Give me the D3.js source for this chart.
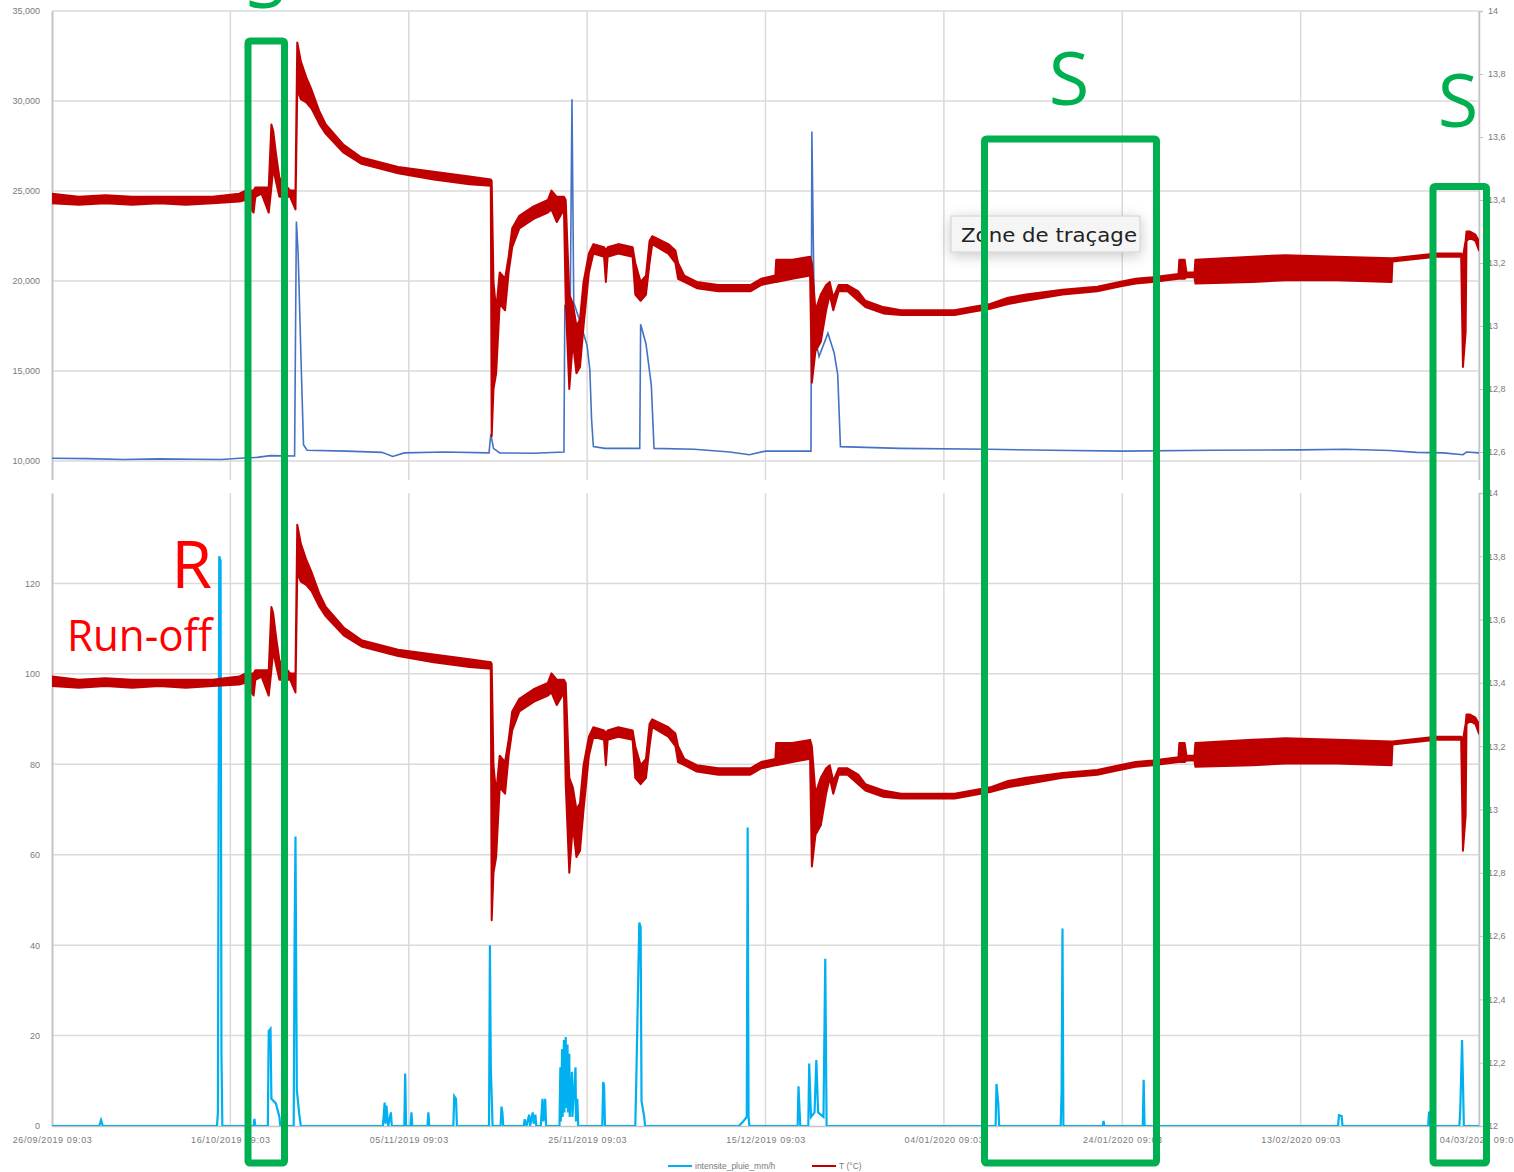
<!DOCTYPE html>
<html>
<head>
<meta charset="utf-8">
<script src="https://cdn.jsdelivr.net/npm/d3@7"></script>
<style>
  body { margin: 0; background: #fff; }
  svg { display: block; }
  .axis text { font-family: "Liberation Sans", Arial, sans-serif; font-size: 9px; fill: #7a7a7a; }
  .axis.dates text { letter-spacing: 0.6px; }
  .legend text { font-family: "Liberation Sans", Arial, sans-serif; font-size: 8.5px; fill: #7a7a7a; }
</style>
</head>
<body>
<svg id="chart" width="1514" height="1172"></svg>
<script>
// x axis labels, one every 20 days
var dateLabels = ["26/09/2019 09:03", "16/10/2019 09:03", "05/11/2019 09:03", "25/11/2019 09:03",
    "15/12/2019 09:03", "04/01/2020 09:03", "24/01/2020 09:03", "13/02/2020 09:03", "04/03/2020 09:03"];
var topLeftTicks = [0, 5000, 10000, 15000, 20000, 25000, 30000, 35000];
var bottomLeftTicks = [0, 20, 40, 60, 80, 100, 120];
var rightTicks = [12, 12.2, 12.4, 12.6, 12.8, 13, 13.2, 13.4, 13.6, 13.8, 14];

// T (°C) : [day since first label, low, high] (the recorded line is a noisy band)
var tempBand = [
    [0, 13.39, 13.42], [3, 13.385, 13.41], [6, 13.39, 13.415], [9, 13.385, 13.41], [12, 13.39, 13.41],
    [15, 13.385, 13.41], [18, 13.39, 13.41], [21, 13.395, 13.42], [21.7, 13.40, 13.43], [22.6, 13.36, 13.43],
    [22.8, 13.41, 13.44], [23.5, 13.42, 13.44], [24.3, 13.36, 13.44], [24.6, 13.44, 13.64], [24.8, 13.50, 13.62],
    [25.1, 13.46, 13.55], [25.5, 13.41, 13.47], [26.7, 13.41, 13.43], [27.3, 13.37, 13.43], [27.5, 13.75, 13.90],
    [27.9, 13.72, 13.84], [28.5, 13.71, 13.79], [29.1, 13.69, 13.75], [30.0, 13.64, 13.68], [30.7, 13.61, 13.64],
    [32.7, 13.55, 13.575], [34.7, 13.515, 13.535], [38.8, 13.485, 13.505], [42.8, 13.465, 13.49], [46.8, 13.45, 13.475],
    [49.2, 13.445, 13.465], [49.3, 12.65, 13.46], [49.5, 12.80, 13.14], [49.8, 12.85, 13.05], [50.2, 13.07, 13.17],
    [50.8, 13.05, 13.15], [51.2, 13.17, 13.22], [51.6, 13.25, 13.31], [52.4, 13.31, 13.35], [54.0, 13.34, 13.38],
    [55.6, 13.36, 13.40], [56.0, 13.37, 13.43], [56.6, 13.33, 13.41], [57.4, 13.37, 13.41], [57.6, 13.08, 13.40],
    [58.0, 12.80, 13.10], [58.4, 12.95, 13.07], [58.8, 12.85, 13.00], [59.2, 12.87, 13.02], [59.6, 13.00, 13.14],
    [60.2, 13.17, 13.23], [60.7, 13.23, 13.26], [61.9, 13.22, 13.25], [62.1, 13.14, 13.24], [62.3, 13.22, 13.25],
    [63.5, 13.23, 13.26], [65.1, 13.22, 13.25], [65.4, 13.10, 13.20], [66.0, 13.08, 13.14], [66.6, 13.10, 13.16],
    [67.0, 13.20, 13.27], [67.3, 13.26, 13.285], [69.1, 13.23, 13.26], [69.9, 13.20, 13.24], [70.2, 13.15, 13.20],
    [70.9, 13.14, 13.16], [72.3, 13.12, 13.14], [74.7, 13.11, 13.13], [78.3, 13.11, 13.13], [79.5, 13.13, 13.15],
    [81.1, 13.14, 13.16], [81.2, 13.14, 13.21], [83.0, 13.15, 13.21], [85.0, 13.16, 13.22], [85.2, 12.82, 13.20],
    [85.6, 12.92, 13.05], [86.2, 12.95, 13.10], [86.8, 13.05, 13.13], [87.2, 13.10, 13.14], [87.6, 13.05, 13.09],
    [88.2, 13.11, 13.13], [89.2, 13.11, 13.13], [90.4, 13.08, 13.11], [91.2, 13.06, 13.08], [93.2, 13.04, 13.06],
    [95.2, 13.035, 13.05], [101.2, 13.035, 13.05], [103.2, 13.045, 13.06], [105.2, 13.055, 13.07], [107.2, 13.07, 13.09],
    [109.2, 13.08, 13.10], [113.3, 13.10, 13.115], [117.2, 13.11, 13.125], [119.7, 13.125, 13.14], [121.5, 13.135, 13.15],
    [123.4, 13.14, 13.155], [126.3, 13.15, 13.165], [126.4, 13.15, 13.21], [127.0, 13.15, 13.21], [127.2, 13.155, 13.17],
    [128.1, 13.155, 13.17], [128.2, 13.135, 13.21], [134.6, 13.14, 13.22], [138.3, 13.145, 13.225], [144.0, 13.145, 13.22],
    [150.2, 13.14, 13.215], [150.3, 13.205, 13.215], [155.2, 13.22, 13.23], [158.0, 13.22, 13.23], [158.2, 12.87, 13.22],
    [158.5, 12.98, 13.27], [158.6, 13.27, 13.30], [159.0, 13.28, 13.30], [159.6, 13.27, 13.29], [160, 13.24, 13.27]
];

// upper chart, left axis series : [day, value]
var topSeries = [
    [0, 10150], [4, 10130], [8, 10080], [12, 10120], [16, 10100], [19, 10080], [21, 10150], [23, 10200],
    [24.5, 10300], [27.2, 10280], [27.4, 23300], [27.6, 21500], [27.9, 16000], [28.2, 10900], [28.6, 10600],
    [33, 10550], [37, 10480], [38.2, 10250], [39.5, 10450], [44, 10500], [49.0, 10450], [49.2, 11500],
    [49.5, 10700], [50.2, 10450], [54, 10430], [57.4, 10500], [57.5, 18600], [58.1, 18300], [58.3, 30100],
    [58.5, 18800], [59.3, 17600], [60.0, 16400], [60.3, 15100], [60.5, 12300], [60.7, 10800], [62, 10700],
    [65.9, 10700], [66.0, 17600], [66.6, 16500], [67.2, 14200], [67.5, 10700], [72, 10650], [76, 10500],
    [78.2, 10350], [80, 10550], [85.1, 10550], [85.2, 28300], [85.5, 17000], [86.0, 15800], [87.0, 17100],
    [87.7, 16000], [88.1, 14800], [88.4, 10800], [95, 10700], [105, 10650], [112, 10600], [120, 10550],
    [130, 10600], [140, 10620], [145, 10650], [150, 10580], [153, 10480], [156, 10450], [158.2, 10350],
    [158.6, 10500], [160, 10450]
];

// intensite_pluie_mm/h : [day, value]
var rain = [
    [0, 0], [5.3, 0], [5.5, 1.3], [5.7, 0],
    [18.5, 0], [18.6, 3], [18.75, 126], [18.9, 125], [19.0, 16], [19.1, 0],
    [22.6, 0], [22.7, 1.6], [22.8, 0],
    [24.2, 0], [24.3, 21], [24.5, 21.5], [24.6, 6], [25.1, 5], [25.5, 2], [25.6, 0],
    [27.1, 0], [27.2, 42], [27.3, 64], [27.45, 8], [27.7, 3], [27.9, 0],
    [37.1, 0], [37.3, 5.2], [37.4, 0.5], [37.5, 4.5], [37.7, 0], [38.0, 3], [38.1, 0],
    [39.5, 0], [39.6, 11.6], [39.7, 0],
    [40.2, 0], [40.3, 3], [40.4, 0],
    [42.1, 0], [42.2, 3], [42.3, 0],
    [45.0, 0], [45.1, 6.6], [45.3, 6], [45.4, 0],
    [49.0, 0], [49.1, 40], [49.2, 13], [49.4, 0],
    [50.3, 0], [50.4, 4.3], [50.5, 3], [50.6, 0],
    [52.9, 0], [53.0, 1.5], [53.2, 0], [53.5, 2.5], [53.6, 0], [53.9, 3], [54.0, 0.5], [54.2, 2.5], [54.3, 0],
    [54.8, 0], [55.0, 6], [55.1, 1], [55.3, 6], [55.4, 0],
    [56.9, 0], [57.0, 13], [57.05, 1], [57.2, 17], [57.25, 2], [57.4, 19], [57.45, 3], [57.6, 19.7], [57.65, 4],
    [57.8, 18], [57.85, 3], [58.0, 16], [58.05, 2], [58.3, 12], [58.35, 2], [58.7, 13], [58.75, 1], [58.9, 6], [59.0, 0],
    [61.7, 0], [61.8, 9.7], [61.9, 9], [62.0, 0],
    [65.4, 0], [65.5, 9], [65.85, 45], [66.0, 44], [66.1, 5.5], [66.4, 2], [66.5, 0],
    [77.0, 0], [77.5, 1], [77.9, 2], [78.0, 66], [78.1, 2], [78.2, 0],
    [83.6, 0], [83.7, 8.8], [83.9, 0],
    [84.8, 0], [84.9, 13.8], [85.1, 2], [85.5, 3], [85.7, 14.6], [85.9, 3], [86.5, 2], [86.7, 37], [86.85, 0],
    [105.8, 0], [105.9, 9.3], [106.1, 5], [106.2, 0],
    [113.1, 0], [113.2, 7.6], [113.3, 43.7], [113.4, 0],
    [117.8, 0], [117.9, 1.1], [118.0, 0],
    [122.3, 0], [122.4, 10.2], [122.5, 0],
    [144.2, 0], [144.3, 2.4], [144.6, 2.2], [144.7, 0],
    [154.3, 0], [154.4, 3.2], [154.5, 0],
    [157.8, 0], [157.9, 3.5], [158.1, 19], [158.2, 10], [158.3, 0],
    [160, 0]
];

var parseDate = d3.timeParse("%d/%m/%Y %H:%M");
var fmtDate = d3.timeFormat("%d/%m/%Y %H:%M");
var tickDates = dateLabels.map(parseDate);
var t0 = tickDates[0];
function toDate(day) { return new Date(t0.getTime() + day * 864e5); }

var fr = d3.formatLocale({ decimal: ",", thousands: " ", grouping: [3], currency: ["", " €"] });
var fmtRight = fr.format(".1~f");

var svg = d3.select('#chart');
var left = 52, right = 1479;

var x = d3.scaleTime()
    .domain([t0, tickDates[tickDates.length - 1]])
    .range([left, right]);

// upper chart (lower part hidden by the second chart)
var yTopL = d3.scaleLinear().domain([0, 35000]).range([641, 11]);
var yTopR = d3.scaleLinear().domain([12, 14]).range([641, 11]);
// lower chart
var yBotL = d3.scaleLinear().domain([0, 140]).range([1126, 493]);
var yBotR = d3.scaleLinear().domain([12, 14]).range([1126, 493]);

var defs = svg.append('defs');

function drawPanel(id, bgTop, top, bottom, yL, yR, leftTicks, leftFmt, showDates) {
    var g = svg.append('g').attr('id', id);
    g.append('rect')
        .attr('x', 0).attr('y', bgTop)
        .attr('width', 1514).attr('height', 1172 - bgTop)
        .attr('fill', '#fff');

    // grid
    g.selectAll('.hgrid')
        .data(leftTicks.filter(function (d) { return d !== yL.domain()[0]; }))
        .enter().append('line')
        .attr('x1', left).attr('x2', right)
        .attr('y1', function (d) { return yL(d); })
        .attr('y2', function (d) { return yL(d); })
        .attr('stroke', '#dadada').attr('stroke-width', 1.5);
    g.selectAll('.vgrid')
        .data(tickDates.slice(1))
        .enter().append('line')
        .attr('x1', function (d) { return x(d); })
        .attr('x2', function (d) { return x(d); })
        .attr('y1', top).attr('y2', bottom)
        .attr('stroke', '#dadada').attr('stroke-width', 1.5);

    // axes
    var axL = g.append('g').attr('class', 'axis')
        .attr('transform', 'translate(' + left + ',0)')
        .call(d3.axisLeft(yL).tickValues(leftTicks).tickFormat(leftFmt).tickSize(0).tickPadding(12));
    axL.select('.domain').attr('stroke', '#c4c4c4').attr('stroke-width', 2);

    var axR = g.append('g').attr('class', 'axis')
        .attr('transform', 'translate(' + right + ',0)')
        .call(d3.axisRight(yR).tickValues(rightTicks).tickFormat(fmtRight).tickSize(4).tickPadding(5));
    axR.select('.domain').attr('stroke', '#c4c4c4').attr('stroke-width', 1.5);
    axR.selectAll('.tick line').attr('stroke', '#c4c4c4');

    if (showDates) {
        var axB = g.append('g').attr('class', 'axis dates')
            .attr('transform', 'translate(0,' + bottom + ')')
            .call(d3.axisBottom(x).tickValues(tickDates).tickFormat(fmtDate).tickSize(0).tickPadding(11));
        axB.select('.domain').attr('stroke', '#c4c4c4').attr('stroke-width', 1.5);
    }

    defs.append('clipPath').attr('id', id + '-clip')
        .append('rect')
        .attr('x', left).attr('y', top - 2)
        .attr('width', right - left).attr('height', bottom - top + 2);

    return g.append('g').attr('clip-path', 'url(#' + id + '-clip)');
}

var tempArea = function (yR) {
    return d3.area()
        .x(function (d) { return x(toDate(d[0])); })
        .y0(function (d) { return yR(d[1]); })
        .y1(function (d) { return yR(d[2]); });
};

// ---- upper chart
var plotTop = drawPanel('top', 0, 11, 641, yTopL, yTopR, topLeftTicks, d3.format(','), false);
plotTop.append('path')
    .datum(topSeries)
    .attr('d', d3.line()
        .x(function (d) { return x(toDate(d[0])); })
        .y(function (d) { return yTopL(d[1]); }))
    .attr('fill', 'none')
    .attr('stroke', '#4472C4')
    .attr('stroke-width', 1.6);
plotTop.append('path')
    .datum(tempBand)
    .attr('d', tempArea(yTopR))
    .attr('fill', '#C00000')
    .attr('stroke', '#C00000')
    .attr('stroke-width', 2)
    .attr('stroke-linejoin', 'round');

// ---- lower chart, drawn over the bottom of the upper one
var plotBot = drawPanel('bottom', 480, 493, 1126, yBotL, yBotR, bottomLeftTicks, d3.format('d'), true);
plotBot.append('path')
    .datum(rain)
    .attr('d', d3.line()
        .x(function (d) { return x(toDate(d[0])); })
        .y(function (d) { return yBotL(d[1]); }))
    .attr('fill', 'none')
    .attr('stroke', '#00B0F0')
    .attr('stroke-width', 2.2);
plotBot.append('path')
    .datum(tempBand)
    .attr('d', tempArea(yBotR))
    .attr('fill', '#C00000')
    .attr('stroke', '#C00000')
    .attr('stroke-width', 2)
    .attr('stroke-linejoin', 'round');

// legend
var legend = svg.append('g').attr('class', 'legend');
var legendItems = [
    { name: 'intensite_pluie_mm/h', color: '#00B0F0', x: 668 },
    { name: 'T (°C)', color: '#C00000', x: 812 }
];
legend.selectAll('line').data(legendItems).enter().append('line')
    .attr('x1', function (d) { return d.x; })
    .attr('x2', function (d) { return d.x + 24; })
    .attr('y1', 1166).attr('y2', 1166)
    .attr('stroke', function (d) { return d.color; })
    .attr('stroke-width', 2);
legend.selectAll('text').data(legendItems).enter().append('text')
    .attr('x', function (d) { return d.x + 27; })
    .attr('y', 1169)
    .text(function (d) { return d.name; });

// tooltip "Zone de traçage"
var shadow = defs.append('filter').attr('id', 'shadow')
    .attr('x', '-30%').attr('y', '-80%').attr('width', '160%').attr('height', '260%');
shadow.append('feDropShadow')
    .attr('dx', 0).attr('dy', 3).attr('stdDeviation', 7)
    .attr('flood-color', '#000').attr('flood-opacity', 0.22);
var tip = svg.append('g');
tip.append('rect')
    .attr('x', 951).attr('y', 216).attr('width', 189).attr('height', 36)
    .attr('fill', '#f5f5f5').attr('stroke', '#d0d0d0').attr('stroke-width', 1)
    .attr('filter', 'url(#shadow)');
tip.append('text')
    .attr('x', 961).attr('y', 242)
    .attr('font-family', '"DejaVu Sans", sans-serif')
    .attr('font-size', 20)
    .attr('fill', '#222')
    .attr('textLength', 176)
    .attr('lengthAdjust', 'spacingAndGlyphs')
    .text('Zone de traçage');

// red annotation
svg.append('text')
    .attr('x', 212).attr('y', 588)
    .attr('text-anchor', 'end')
    .attr('font-family', '"Open Sans", sans-serif')
    .attr('font-size', 66)
    .attr('fill', '#FF0000')
    .text('R');
svg.append('text')
    .attr('x', 67).attr('y', 651)
    .attr('font-family', '"Open Sans", sans-serif')
    .attr('font-size', 44)
    .attr('fill', '#FF0000')
    .attr('textLength', 145)
    .attr('lengthAdjust', 'spacingAndGlyphs')
    .text('Run-off');

// green boxes and labels (the first "S" is cut by the top edge, as in the original)
var boxes = [
    { x: 248, y: 41, w: 36.5, h: 1122 },
    { x: 984.5, y: 139, w: 172, h: 1024 },
    { x: 1433, y: 186.5, w: 53.5, h: 976.5 }
];
svg.selectAll('.box').data(boxes).enter().append('rect')
    .attr('x', function (d) { return d.x; })
    .attr('y', function (d) { return d.y; })
    .attr('width', function (d) { return d.w; })
    .attr('height', function (d) { return d.h; })
    .attr('rx', 2)
    .attr('fill', 'none')
    .attr('stroke', '#00B050')
    .attr('stroke-width', 7);
var greenLabels = [
    { x: 266, y: 8 },
    { x: 1069, y: 105 },
    { x: 1458, y: 127 }
];
svg.selectAll('.slabel').data(greenLabels).enter().append('text')
    .attr('x', function (d) { return d.x; })
    .attr('y', function (d) { return d.y; })
    .attr('text-anchor', 'middle')
    .attr('font-family', '"Open Sans", sans-serif')
    .attr('font-size', 74)
    .attr('fill', '#00B050')
    .text('S');
</script>
</body>
</html>
